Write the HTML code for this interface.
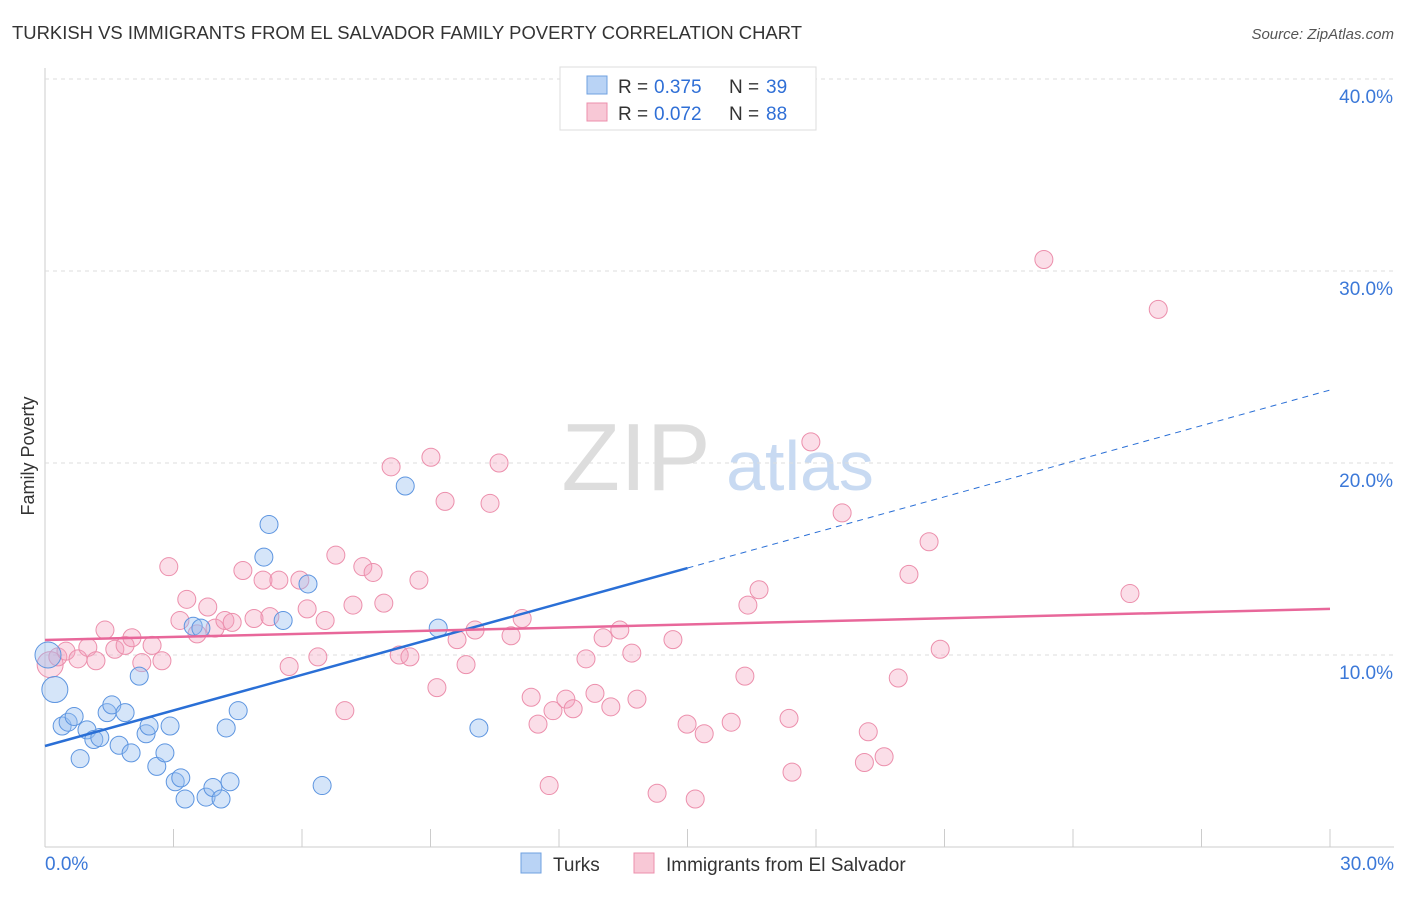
<!DOCTYPE html>
<html><head><meta charset="utf-8"><style>
body{margin:0;background:#fff;font-family:"Liberation Sans",sans-serif;}
svg text{font-family:"Liberation Sans",sans-serif;}
</style></head><body>
<svg id="chart" width="1406" height="892">
<text x="12" y="39" font-size="18" fill="#333" textLength="790" lengthAdjust="spacingAndGlyphs">TURKISH VS IMMIGRANTS FROM EL SALVADOR FAMILY POVERTY CORRELATION CHART</text>
<text x="1394" y="39" font-size="15" fill="#555" font-style="italic" text-anchor="end">Source: ZipAtlas.com</text>
<text x="34" y="456" font-size="18" fill="#333" text-anchor="middle" transform="rotate(-90 34 456)">Family Poverty</text>
<g><text x="636" y="490" font-size="96" fill="#ddd" font-family="Liberation Serif" text-anchor="middle">ZIP</text><text x="800" y="490" font-size="70" fill="#c8daf2" text-anchor="middle">atlas</text></g>
<g id="grid"></g><g id="marks"></g>
<g>
<rect x="560" y="67" width="256" height="63" fill="#fff" stroke="#ddd"/>
<rect x="587" y="76" width="20" height="18" fill="#b9d3f5" stroke="#6fa0e0"/>
<text x="618" y="93" font-size="19" fill="#333">R =</text><text x="654" y="93" font-size="19" fill="#2f6fd6">0.375</text>
<text x="729" y="93" font-size="19" fill="#333">N =</text><text x="766" y="93" font-size="19" fill="#2f6fd6">39</text>
<rect x="587" y="103" width="20" height="18" fill="#f8c8d6" stroke="#ec8fac"/>
<text x="618" y="120" font-size="19" fill="#333">R =</text><text x="654" y="120" font-size="19" fill="#2f6fd6">0.072</text>
<text x="729" y="120" font-size="19" fill="#333">N =</text><text x="766" y="120" font-size="19" fill="#2f6fd6">88</text>
</g>
<g>
<rect x="521" y="853" width="20" height="20" fill="#b9d3f5" stroke="#6fa0e0"/>
<text x="553" y="871" font-size="19" fill="#333">Turks</text>
<rect x="634" y="853" width="20" height="20" fill="#f8c8d6" stroke="#ec8fac"/>
<text x="666" y="871" font-size="19" fill="#333">Immigrants from El Salvador</text>
</g>
</svg>
<script>
const xTicks=[0,3,6,9,12,15,18,21,24,27,30];
const yTicks=[10,20,30,40];
const turksX=[0.23,0.07,0.40,0.54,0.68,0.98,1.14,1.28,1.45,1.56,1.73,1.87,2.01,0.82,2.20,2.36,2.43,2.61,2.80,2.92,3.04,3.17,3.27,3.76,3.92,4.11,4.32,4.23,4.51,5.11,5.23,5.56,6.14,6.47,8.41,9.18,10.13,3.46,3.64];
const turksY=[8.2,10.0,6.3,6.5,6.8,6.1,5.6,5.7,7.0,7.4,5.3,7.0,4.9,4.6,8.9,5.9,6.3,4.2,4.9,6.3,3.4,3.6,2.5,2.6,3.1,2.5,3.4,6.2,7.1,15.1,16.8,11.8,13.7,3.2,18.8,11.4,6.2,11.5,11.4];
const turksR=[13,13,9,9,9,9,9,9,9,9,9,9,9,9,9,9,9,9,9,9,9,9,9,9,9,9,9,9,9,9,9,9,9,9,9,9,9,9,9];
const salvX=[0.12,0.30,0.49,0.77,1.00,1.19,1.40,1.63,1.87,2.03,2.26,2.50,2.73,2.89,3.31,3.15,3.55,3.80,3.97,4.20,4.37,4.62,4.88,5.09,5.25,5.46,5.70,5.95,6.12,6.37,6.54,6.79,7.00,7.19,7.42,7.66,7.91,8.08,8.27,8.52,8.73,9.01,9.15,9.34,9.62,9.83,10.04,10.39,10.60,10.88,11.14,11.35,11.51,11.77,11.86,12.16,12.33,12.63,12.84,13.03,13.21,13.42,13.70,13.82,14.29,14.66,14.99,15.18,15.39,16.02,16.34,16.41,16.67,17.37,17.44,17.88,18.61,19.13,19.22,19.59,19.92,20.17,20.64,20.90,23.32,25.33,25.99];
const salvY=[9.5,9.9,10.2,9.8,10.4,9.7,11.3,10.3,10.5,10.9,9.6,10.5,9.7,14.6,12.9,11.8,11.1,12.5,11.4,11.8,11.7,14.4,11.9,13.9,12.0,13.9,9.4,13.9,12.4,9.9,11.8,15.2,7.1,12.6,14.6,14.3,12.7,19.8,10.0,9.9,13.9,20.3,8.3,18.0,10.8,9.5,11.3,17.9,20.0,11.0,11.9,7.8,6.4,3.2,7.1,7.7,7.2,9.8,8.0,10.9,7.3,11.3,10.1,7.7,2.8,10.8,6.4,2.5,5.9,6.5,8.9,12.6,13.4,6.7,3.9,21.1,17.4,4.4,6.0,4.7,8.8,14.2,15.9,10.3,30.6,13.2,28.0];
const turkLine=[5.26,23.8];
const salvLine=[10.78,12.40];
const NS='http://www.w3.org/2000/svg';
const X=v=>45+v*(1285/30), Y=v=>847-v*19.2;
function mk(tag,attrs,parent){const e=document.createElementNS(NS,tag);for(const k in attrs)e.setAttribute(k,attrs[k]);parent.appendChild(e);return e;}
const grid=document.getElementById('grid'),marks=document.getElementById('marks');
mk('line',{x1:45,y1:68,x2:45,y2:847,stroke:'#ccc'},grid);
mk('line',{x1:45,y1:847,x2:1394,y2:847,stroke:'#ccc'},grid);
yTicks.forEach(t=>{
 const l=mk('line',{x1:45,y1:Y(t),x2:1394,y2:Y(t),stroke:'#ddd','stroke-dasharray':'4,4'},grid);
 
 
 const tx=mk('text',{x:1393,y:Y(t)+24,'font-size':19,fill:'#3b78d8','text-anchor':'end'},grid);
 tx.textContent=t.toFixed(1)+'%';
 
 
});
xTicks.forEach(t=>{
 const l=mk('line',{x1:X(t),y1:829,x2:X(t),y2:847,stroke:'#ccc'},grid);
 
 
});
[[0,'start',45],[30,'end',1394]].forEach(([t,a,x])=>{
 const tx=mk('text',{x:x,y:870,'font-size':19,fill:'#3b78d8','text-anchor':a},grid);
 tx.textContent=t.toFixed(1)+'%';
 
 
});
salvX.forEach((v,i)=>{
 const c=mk('circle',{cx:X(v),cy:Y(salvY[i]),r:i==0?13:9,fill:'rgba(244,160,188,0.35)',stroke:'#ec8fac','stroke-width':1},marks);
 
 
});
turksX.forEach((v,i)=>{
 const c=mk('circle',{cx:X(v),cy:Y(turksY[i]),r:turksR[i],fill:'rgba(150,190,240,0.4)',stroke:'#5d95e0','stroke-width':1},marks);
 
 
});
const tAt=x=>turkLine[0]+(turkLine[1]-turkLine[0])*x/30;
let l1=mk('line',{x1:X(0),y1:Y(tAt(0)),x2:X(15),y2:Y(tAt(15)),stroke:'#2a6fd6','stroke-width':2.5},marks);


let l2=mk('line',{x1:X(15),y1:Y(tAt(15)),x2:X(30),y2:Y(tAt(30)),stroke:'#2a6fd6','stroke-width':1,'stroke-dasharray':'6,5'},marks);


let l3=mk('line',{x1:X(0),y1:Y(salvLine[0]),x2:X(30),y2:Y(salvLine[1]),stroke:'#e8679a','stroke-width':2.5},marks);


</script>
</body></html>
